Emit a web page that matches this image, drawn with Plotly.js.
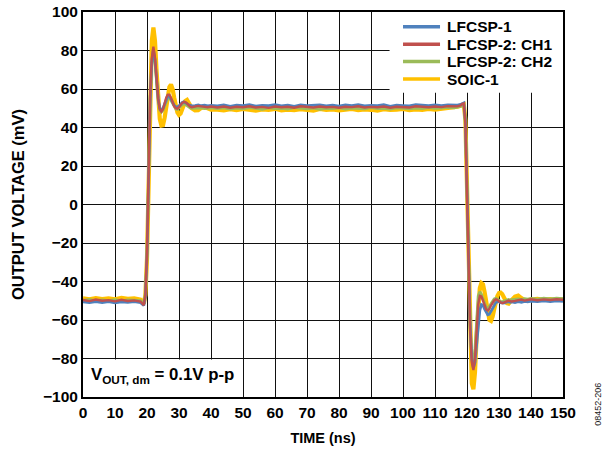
<!DOCTYPE html>
<html>
<head>
<meta charset="utf-8">
<script src="https://cdn.plot.ly/plotly-3.0.1.min.js"></script>
<style>html,body{margin:0;padding:0;background:#fff;}#chart{width:614px;height:450px;}</style>
</head>
<body>
<div id="chart"></div>
<script>
// Time axis (ns)
const timeNs = [0,2,4,6,8,10,12,14,16,18,
19,19.5,20,20.5,21,21.5,22,22.5,23,23.5,24,24.5,25,25.5,26,26.5,27,27.5,28,28.5,29,29.5,30,30.5,31,31.5,32,32.5,33,33.5,34,
35,36,37,38,39,40,
42,44,46,48,50,52,54,56,58,60,62,64,66,68,70,72,74,76,78,80,82,84,86,88,90,92,94,96,98,100,102,104,106,108,110,112,114,116,
117,118,118.5,119,119.5,120,120.5,121,121.5,122,122.5,123,123.5,124,124.5,125,125.5,126,126.5,127,127.5,128,128.5,129,129.5,130,130.5,131,131.5,132,132.5,133,133.5,134,
135,136,137,138,139,140,
142,144,146,148,150];

// LFCSP-1 (mV)
const lfcsp1 = [-50.6,-51.0,-50.4,-50.9,-50.5,-51.1,-50.6,-50.8,-50.5,-51.0,
-52.5,-48,-27,17,55,74,80.5,75,64.5,55,50,49,50,52.5,55,56.5,56.5,55,53,51.5,50.8,50.6,51.2,52.2,53,53.3,53,52.4,51.8,51.3,51.2,
51.4,51.7,51.3,51.6,51.2,51.5,
51.2,51.7,51.0,51.6,51.3,51.8,51.1,51.5,51.4,51.9,51.2,51.6,51.0,51.7,51.3,51.5,51.8,51.2,51.6,51.1,51.7,51.4,51.9,51.2,51.5,51.3,51.8,51.0,51.6,51.4,51.2,51.9,51.5,51.3,51.7,51.4,51.8,51.6,
51.6,52.0,52.6,52.8,44,8,-32,-63,-80,-85,-82,-72,-62,-55,-52,-52.3,-54.3,-56.3,-57.3,-57,-55.5,-53.5,-52,-51,-50.5,-50.5,-51,-51.3,-51.2,-50.9,-50.6,-50.5,-50.8,-50.6,
-50.9,-50.5,-50.8,-50.3,-50.6,-50.2,
-50.5,-50.1,-50.4,-50.0,-50.3];

// LFCSP-2: CH1 (mV)
const lfcsp2ch1 = [-49.6,-50.2,-49.4,-50.0,-49.7,-50.3,-49.5,-50.1,-49.8,-50.4,
-52.3,-47,-25,20,58,76,82,76,65,55,49.5,48.3,49.5,52.5,55.5,57,57,55.5,53,51,50,49.8,50.5,51.8,52.8,53.3,53.2,52.5,51.5,50.8,50.5,
50.7,51.2,51.0,50.6,50.5,50.9,
50.4,50.9,50.3,50.8,50.5,51.0,50.4,50.7,50.2,50.9,50.5,50.8,50.3,51.0,50.6,50.4,50.9,50.5,50.7,50.3,50.8,50.6,51.0,50.4,50.7,50.5,50.9,50.3,50.8,50.6,50.4,51.0,50.7,50.5,50.9,50.6,51.1,50.8,
51.0,51.5,52.3,52.5,42,5,-35,-66,-82,-86,-80,-65,-52,-47.5,-47.8,-50,-52.5,-54.5,-55,-54.2,-52.5,-51,-49.8,-49.3,-49.5,-50.3,-51,-51.3,-51,-50.5,-50.1,-49.9,-50.2,-50.4,
-50.1,-49.7,-49.4,-49.9,-49.6,-49.2,
-49.7,-49.3,-49.6,-49.2,-49.5];

// LFCSP-2: CH2 (mV)
const lfcsp2ch2 = [-49.8,-49.3,-50.0,-49.5,-49.9,-49.4,-50.1,-49.6,-49.7,-49.9,
-51.5,-46,-24,20,56,73,79.5,74,63.5,54,49,48,49,51.5,54,55.5,55.5,54,52,50.5,49.6,49.4,50,51,51.8,52.2,52,51.4,50.6,50.1,49.9,
50.0,50.4,50.2,49.8,49.9,50.2,
49.8,50.2,49.6,50.1,49.7,50.3,49.9,49.5,50.2,49.8,50.0,49.6,50.3,49.9,49.7,50.1,49.5,50.0,49.8,50.2,49.6,50.1,49.9,49.7,50.3,49.8,50.0,49.6,50.2,49.9,49.7,50.1,49.8,50.3,49.9,50.1,50.4,50.2,
50.4,50.9,51.7,52.0,41,4,-36,-65,-79,-82,-75,-58,-47.5,-45.3,-46.5,-49,-51.8,-53.5,-53.8,-53,-51.5,-50,-49,-48.7,-49,-49.7,-50.3,-50.5,-50.2,-49.8,-49.4,-49.3,-49.6,-49.5,
-49.3,-49.0,-49.4,-48.9,-49.2,-48.8,
-49.1,-48.7,-49.0,-48.6,-48.9];

// SOIC-1 (mV)
const soic1 = [-48.8,-49.3,-48.6,-49.1,-48.7,-49.2,-48.5,-49.0,-48.8,-49.4,
-51.5,-47,-28,18,62,85,92,85,69,54,44.5,41,41.2,45,51,57,61,62.3,60,55.5,51,47.8,46.6,47.3,49.5,52,53.8,54.3,53.3,51.5,50,
48.9,49.0,50.2,50.6,49.9,49.3,
49.3,48.9,49.5,49.0,49.6,49.2,48.8,49.4,49.1,49.7,48.9,49.3,49.0,49.5,49.2,48.8,49.6,49.1,49.4,48.9,49.3,49.7,49.0,49.4,49.2,48.8,49.5,49.1,49.3,49.6,49.0,49.4,49.2,49.7,49.3,49.6,50.1,50.5,
50.8,51.3,51.8,52.0,44,6,-38,-74,-93,-96,-87,-69,-53,-43.5,-40.8,-41.5,-45.5,-51.5,-57,-60,-60.5,-58.3,-54.5,-50.5,-47.5,-46,-45.8,-46.5,-48.3,-50.3,-51.3,-51.5,-50.8,-49.5,
-47.8,-47.3,-48.6,-49.8,-50.0,-49.4,
-49.0,-49.5,-49.1,-49.6,-49.2];

const seriesNames = ['LFCSP-1','LFCSP-2: CH1','LFCSP-2: CH2','SOIC-1'];
const xTicks = [0,10,20,30,40,50,60,70,80,90,100,110,120,130,140,150];
const yTicks = [-100,-80,-60,-40,-20,0,20,40,60,80,100];

const FONT = '"Liberation Sans", Arial, Helvetica, sans-serif';
const seriesColors = ['#4F81BD', '#C0504D', '#9BBB59', '#FFC000'];
const seriesData = [lfcsp1, lfcsp2ch1, lfcsp2ch2, soic1];
const seriesWidth = [2.8, 2.4, 2.8, 4.2];

// draw order: SOIC-1 at back, then CH2, LFCSP-1, CH1 on top
const drawOrder = [3, 2, 0, 1];
const traces = drawOrder.map(i => ({
  x: timeNs, y: seriesData[i], name: seriesNames[i], mode: 'lines',
  showlegend: false, line: {color: seriesColors[i], width: seriesWidth[i]}
}));

// hand-laid legend (white box covering grid, lines + labels)
const legX0 = 0.6667, legX1 = 0.7438, legTextX = 0.7542, legTop = 0.9618, legStep = 0.0453;
const legendShapes = seriesNames.map((n, i) => ({
  type: 'line', xref: 'paper', yref: 'paper', x0: legX0, x1: legX1,
  y0: legTop - i * legStep, y1: legTop - i * legStep,
  line: {color: seriesColors[i], width: 3.5}, layer: 'above'
}));
const legendTexts = seriesNames.map((n, i) => ({
  xref: 'paper', yref: 'paper', x: legTextX, y: legTop - i * legStep,
  xanchor: 'left', yanchor: 'middle', showarrow: false, text: n,
  font: {family: FONT, size: 15.5, weight: 'bold', color: '#000'}
}));

const layout = {
  width: 614, height: 450,
  margin: {l: 83, r: 51, t: 12, b: 53},
  paper_bgcolor: '#fff', plot_bgcolor: '#fff',
  font: {family: FONT, color: '#000'},
  showlegend: false,
  xaxis: {
    range: [0, 150], tickvals: xTicks, ticktext: xTicks.map(String),
    showgrid: true, gridcolor: '#111', gridwidth: 1,
    showline: true, linecolor: '#000', linewidth: 2, mirror: true,
    zeroline: false, ticks: '',
    tickfont: {family: FONT, size: 15.5, weight: 'bold'},
    title: {text: 'TIME (ns)', font: {family: FONT, size: 14.5, weight: 'bold'}, standoff: 13}
  },
  yaxis: {
    range: [-100, 100], tickvals: yTicks,
    showgrid: true, gridcolor: '#111', gridwidth: 1,
    showline: true, linecolor: '#000', linewidth: 2, mirror: true,
    zeroline: false, ticks: '',
    tickfont: {family: FONT, size: 15.5, weight: 'bold'},
    title: {text: 'OUTPUT VOLTAGE (mV)', font: {family: FONT, size: 16.5, weight: 'bold'}, standoff: 14}
  },
  shapes: [
    {type:'rect', xref:'x', yref:'y', x0:95.8, x1:150, y0:58, y1:100, fillcolor:'#fff', line:{width:0}, layer:'between'},
    {type:'rect', xref:'x', yref:'y', x0:0, x1:49.7, y0:-100, y1:-80.5, fillcolor:'#fff', line:{width:0}, layer:'between'}
  ].concat(legendShapes),
  annotations: [
    {xref:'x', yref:'y', x:1.8, y:-88.6, xanchor:'left', yanchor:'middle', showarrow:false,
     text:'V<sub>OUT, dm</sub> = 0.1V p-p', font:{family: FONT, size: 16.8, weight:'bold', color:'#000'}},
    {xref:'paper', yref:'paper', x:1.073, y:-0.02, xanchor:'center', yanchor:'middle', showarrow:false,
     textangle:-90, text:'08452-206', font:{family: FONT, size: 9, color:'#222'}}
  ].concat(legendTexts)
};

Plotly.newPlot('chart', traces, layout, {displayModeBar: false, staticPlot: true});
</script>
</body>
</html>
